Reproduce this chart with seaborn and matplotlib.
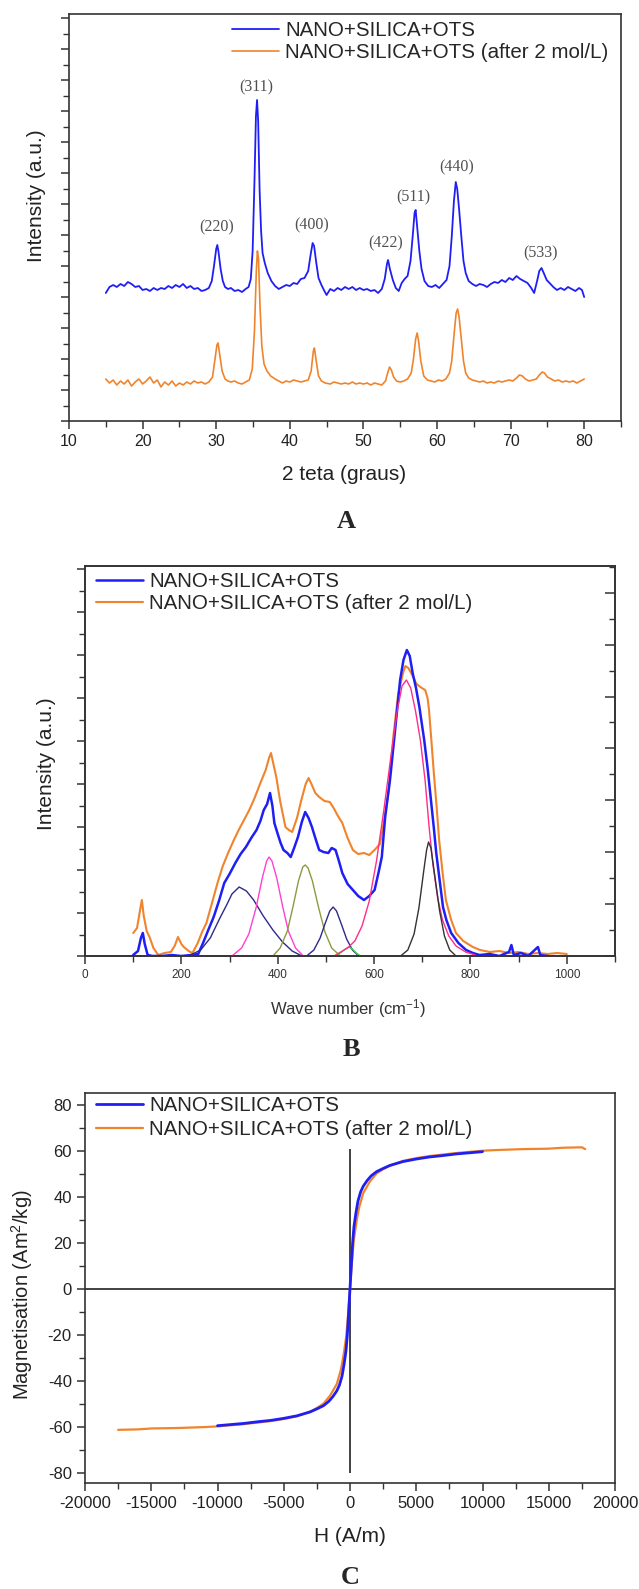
import matplotlib
matplotlib.use("Agg")
import numpy as np
import matplotlib.pyplot as plt
from matplotlib.ticker import MultipleLocator, NullFormatter
import seaborn as sns

# ---------------- data ----------------
legend_labels = ["NANO+SILICA+OTS", "NANO+SILICA+OTS (after 2 mol/L)"]

# (A) XRD: 2 theta (deg), intensity (a.u.)
xrd_blue = [
    (15.0, 128), (15.5, 134), (16.0, 136), (16.5, 134), (17.0, 137), (17.5, 135), (18.0, 139), (18.5, 137),
    (19.0, 134), (19.5, 135), (20.0, 131), (20.5, 132), (21.0, 130), (21.5, 133), (22.0, 131), (22.5, 133),
    (23.0, 132), (23.5, 135), (24.0, 133), (24.5, 136), (25.0, 134), (25.5, 137), (26.0, 133), (26.5, 135),
    (27.0, 132), (27.5, 133), (28.0, 130), (28.5, 131), (29.0, 133), (29.4, 140), (29.7, 155), (30.0, 172),
    (30.15, 176), (30.3, 170), (30.6, 152), (30.9, 140), (31.2, 134), (31.6, 132), (32.0, 133), (32.5, 130),
    (33.0, 131), (33.5, 129), (34.0, 132), (34.4, 134), (34.7, 142), (34.95, 170), (35.2, 240), (35.4, 305),
    (35.55, 321), (35.7, 300), (35.9, 230), (36.1, 190), (36.3, 168), (36.6, 158), (37.0, 148), (37.5, 140),
    (38.0, 135), (38.5, 132), (39.0, 134), (39.5, 136), (40.0, 135), (40.5, 138), (41.0, 137), (41.5, 142),
    (42.0, 143), (42.5, 150), (42.8, 165), (43.1, 178), (43.3, 175), (43.6, 158), (43.9, 143), (44.3, 136),
    (44.7, 130), (45.0, 126), (45.5, 132), (46.0, 130), (46.5, 133), (47.0, 131), (47.5, 134), (48.0, 132),
    (48.5, 134), (49.0, 131), (49.5, 133), (50.0, 131), (50.5, 132), (51.0, 130), (51.5, 131), (52.0, 128),
    (52.5, 132), (52.9, 142), (53.2, 157), (53.35, 161), (53.6, 152), (54.0, 141), (54.4, 133), (54.8, 130),
    (55.2, 138), (55.6, 142), (56.0, 145), (56.4, 160), (56.7, 185), (56.95, 208), (57.1, 211), (57.3, 195),
    (57.6, 170), (57.9, 152), (58.3, 140), (58.8, 135), (59.3, 134), (59.8, 136), (60.3, 133), (60.8, 137),
    (61.3, 141), (61.7, 155), (62.0, 184), (62.3, 220), (62.55, 239), (62.75, 232), (63.0, 212), (63.3, 185),
    (63.6, 160), (63.9, 148), (64.3, 140), (64.8, 137), (65.3, 135), (65.8, 137), (66.3, 136), (66.8, 134),
    (67.3, 137), (67.8, 139), (68.3, 138), (68.8, 141), (69.3, 139), (69.8, 143), (70.3, 141), (70.8, 145),
    (71.3, 142), (71.8, 140), (72.3, 138), (72.8, 133), (73.2, 128), (73.6, 140), (73.9, 150), (74.2, 153),
    (74.5, 148), (74.9, 141), (75.3, 138), (75.8, 134), (76.3, 131), (76.8, 133), (77.3, 131), (77.8, 134),
    (78.3, 132), (78.8, 130), (79.3, 133), (79.7, 131), (80.0, 124),
]
xrd_orange = [
    (15.0, 42), (15.5, 38), (16.0, 41), (16.5, 36), (17.0, 40), (17.5, 37), (18.0, 41), (18.5, 35),
    (19.0, 39), (19.5, 42), (20.0, 37), (20.5, 40), (21.0, 44), (21.5, 38), (22.0, 41), (22.5, 34),
    (23.0, 39), (23.5, 36), (24.0, 40), (24.5, 35), (25.0, 38), (25.5, 36), (26.0, 39), (26.5, 37),
    (27.0, 40), (27.5, 38), (28.0, 39), (28.5, 37), (29.0, 39), (29.5, 44), (29.8, 60), (30.1, 76),
    (30.25, 78), (30.45, 68), (30.8, 50), (31.2, 42), (31.6, 40), (32.0, 39), (32.5, 40), (33.0, 38),
    (33.5, 37), (34.0, 39), (34.5, 41), (34.9, 52), (35.2, 90), (35.45, 150), (35.6, 170), (35.75, 162),
    (35.95, 115), (36.2, 75), (36.5, 57), (36.9, 50), (37.4, 45), (38.0, 42), (38.5, 40), (39.0, 38),
    (39.5, 40), (40.0, 39), (40.5, 41), (41.0, 40), (41.5, 39), (42.0, 40), (42.5, 41), (42.9, 50),
    (43.2, 70), (43.35, 73), (43.55, 62), (43.9, 45), (44.3, 40), (44.8, 38), (45.5, 37), (46.0, 39),
    (46.5, 38), (47.0, 37), (47.5, 38), (48.0, 37), (48.5, 39), (49.0, 37), (49.5, 38), (50.0, 37),
    (50.5, 38), (51.0, 36), (51.5, 38), (52.0, 37), (52.5, 36), (53.0, 40), (53.3, 48), (53.55, 54),
    (53.8, 51), (54.1, 44), (54.5, 40), (55.0, 39), (55.5, 40), (56.0, 42), (56.5, 48), (56.8, 62),
    (57.1, 82), (57.3, 88), (57.5, 80), (57.8, 60), (58.2, 45), (58.7, 41), (59.2, 40), (59.7, 39),
    (60.2, 41), (60.7, 40), (61.2, 42), (61.7, 48), (62.0, 60), (62.3, 85), (62.6, 108), (62.8, 112),
    (63.0, 104), (63.3, 82), (63.6, 60), (63.9, 48), (64.3, 43), (64.8, 41), (65.3, 40), (65.8, 39),
    (66.3, 40), (66.8, 38), (67.3, 39), (67.8, 38), (68.3, 40), (68.8, 39), (69.3, 40), (69.8, 41),
    (70.3, 40), (70.8, 43), (71.2, 46), (71.6, 45), (72.0, 42), (72.5, 40), (73.0, 41), (73.5, 42),
    (73.9, 46), (74.3, 49), (74.6, 48), (75.0, 44), (75.5, 42), (76.0, 40), (76.5, 41), (77.0, 39),
    (77.5, 40), (78.0, 39), (78.5, 40), (79.0, 38), (79.5, 40), (80.0, 42),
]
hkl_labels = ["(220)", "(311)", "(400)", "(422)", "(511)", "(440)", "(533)"]
hkl_x = [30.1, 35.5, 43.0, 53.0, 56.8, 62.7, 74.1]
hkl_y = [194, 334, 196, 178, 224, 254, 168]

# (B) spectra: wave number (cm-1), intensity (a.u.)
spec_blue = [
    (100, 1), (110, 5), (116, 18), (120, 23), (124, 12), (130, 1), (140, 0), (160, 0), (180, 1), (200, 0),
    (220, 1), (235, 2), (245, 13), (255, 25), (267, 39), (278, 55), (289, 73), (300, 82), (312, 93),
    (323, 102), (334, 109), (345, 118), (356, 126), (364, 135), (371, 146), (378, 152), (384, 163),
    (389, 150), (393, 133), (400, 122), (406, 113), (412, 106), (420, 103), (427, 99), (434, 108),
    (442, 119), (450, 134), (457, 144), (464, 138), (471, 129), (478, 118), (486, 106), (495, 104),
    (505, 103), (512, 108), (520, 106), (527, 95), (534, 83), (545, 72), (556, 66), (567, 60), (579, 56),
    (590, 60), (601, 66), (609, 83), (616, 99), (623, 139), (633, 176), (643, 223), (654, 276), (661, 296),
    (668, 306), (674, 300), (680, 283), (687, 268), (694, 249), (704, 216), (711, 188), (718, 156),
    (724, 128), (729, 103), (736, 76), (743, 49), (750, 36), (760, 23), (775, 13), (791, 6), (805, 3),
    (819, 1), (840, 2), (860, 0), (880, 4), (885, 11), (890, 1), (905, 3), (920, 0), (940, 9), (945, 1),
    (960, 0),
]
spec_orange = [
    (100, 23), (108, 28), (114, 45), (118, 56), (122, 40), (128, 25), (134, 19), (142, 8), (152, 1),
    (165, 3), (178, 4), (186, 10), (193, 19), (200, 12), (205, 9), (215, 5), (223, 3), (234, 13),
    (243, 24), (252, 33), (263, 52), (275, 73), (286, 90), (297, 103), (308, 115), (319, 126), (330, 136),
    (341, 146), (352, 158), (364, 173), (375, 186), (382, 198), (386, 203), (391, 192), (397, 179),
    (405, 155), (416, 129), (423, 126), (430, 124), (440, 138), (449, 156), (458, 172), (464, 178),
    (470, 172), (478, 163), (486, 159), (497, 155), (508, 154), (516, 148), (525, 140), (534, 133),
    (545, 118), (556, 106), (567, 102), (579, 103), (590, 101), (601, 106), (612, 112), (620, 133),
    (630, 165), (640, 220), (650, 262), (660, 283), (665, 290), (671, 288), (678, 282), (688, 272),
    (699, 268), (706, 266), (711, 258), (714, 246), (719, 215), (724, 183), (730, 148), (735, 116),
    (742, 84), (749, 56), (760, 36), (770, 23), (785, 15), (805, 9), (820, 6), (840, 4), (860, 5),
    (880, 3), (900, 4), (920, 2), (940, 3), (960, 2), (980, 3), (1000, 2),
]
# fitted component bands
band_320 = [(215, 0), (240, 6), (260, 18), (280, 38), (295, 52), (305, 62), (320, 69), (335, 65),
            (350, 56), (370, 40), (390, 26), (410, 14), (430, 5), (450, 0)]
band_382 = [(305, 0), (325, 8), (340, 22), (355, 48), (368, 78), (377, 95), (382, 99), (388, 95),
            (398, 78), (410, 50), (422, 25), (437, 8), (453, 0)]
band_457 = [(390, 0), (405, 8), (420, 25), (432, 50), (443, 75), (452, 89), (457, 91), (463, 88),
            (472, 75), (485, 48), (498, 24), (512, 8), (530, 0)]
band_515 = [(460, 0), (475, 6), (488, 18), (498, 32), (508, 45), (515, 49), (522, 45), (532, 32),
            (543, 17), (555, 6), (568, 0)]
band_547 = [(520, 0), (530, 3), (540, 7), (547, 9), (555, 7), (563, 3), (572, 0)]
band_667 = [(520, 1), (545, 8), (560, 15), (575, 30), (590, 55), (605, 95), (620, 145), (635, 200),
            (648, 245), (658, 270), (667, 276), (676, 268), (686, 245), (696, 216), (706, 175),
            (714, 130), (722, 92), (732, 58), (742, 36), (755, 20), (770, 10), (790, 4), (810, 1)]
band_713 = [(655, 0), (670, 6), (683, 22), (693, 48), (703, 85), (709, 106), (713, 114), (718, 108),
            (726, 80), (736, 45), (746, 20), (757, 6), (770, 0)]
bands = [band_320, band_382, band_457, band_515, band_547, band_667, band_713]
band_colors = ["#2e2a8c", "#ff40d0", "#8c9a40", "#2e2a8c", "#30e030", "#ff2d8a", "#333333"]

# (C) magnetisation: H (A/m), M (Am2/kg)
mag_blue = [
    (-10000, -59.6), (-9000, -59.1), (-8000, -58.6), (-7000, -57.9), (-6000, -57.3), (-5000, -56.4),
    (-4000, -55.3), (-3000, -53.6), (-2500, -52.3), (-2000, -50.9), (-1600, -49.0), (-1300, -47.0),
    (-1000, -44.5), (-800, -42), (-600, -38), (-450, -33), (-300, -27), (-200, -20), (-100, -10), (0, 0),
    (100, 10), (200, 20), (300, 27), (450, 33), (600, 38), (800, 42), (1000, 44.5), (1300, 47),
    (1600, 49), (2000, 50.8), (2500, 52.2), (3000, 53.5), (4000, 55.2), (5000, 56.3), (6000, 57.2),
    (7000, 57.8), (8000, 58.5), (9000, 59), (10000, 59.5),
]
mag_orange = [
    (-17500, -61.4), (-16000, -61.2), (-15000, -60.8), (-13000, -60.6), (-11000, -60.2), (-10000, -59.9),
    (-8000, -58.9), (-6000, -57.6), (-5000, -56.7), (-4000, -55.5), (-3000, -53.4), (-2500, -51.9),
    (-2000, -50.0), (-1500, -46.5), (-1000, -41.5), (-700, -35.5), (-500, -29.5), (-300, -21.5),
    (-200, -15.5), (-100, -8), (0, 0), (100, 8), (200, 15.5), (300, 21.5), (500, 29.5), (700, 35.5),
    (1000, 41.5), (1500, 46.5), (2000, 50.0), (2500, 51.9), (3000, 53.4), (4000, 55.5), (5000, 56.7),
    (6000, 57.6), (8000, 58.9), (10000, 59.9), (11000, 60.2), (13000, 60.6), (15000, 60.8),
    (16000, 61.2), (17500, 61.4), (17750, 60.6),
]
mag_vline = [-80, 60.5]

BLUE = "#1f1ff5"
ORANGE = "#f0842c"

# ---------------- figure ----------------
sns.set_theme(style="ticks")
plt.rcParams["font.family"] = ["Liberation Sans", "DejaVu Sans"]
plt.rcParams["mathtext.default"] = "regular"
plt.rcParams["axes.unicode_minus"] = False

W, H = 639, 1589
fig = plt.figure(figsize=(W / 100, H / 100), dpi=100)


def box(left, top, right, bottom):
    return [left / W, 1 - bottom / H, (right - left) / W, (bottom - top) / H]


def ftext(x, y, s, **kw):
    fig.text(x / W, 1 - y / H, s, ha="center", va="center", **kw)


def style_frame(ax):
    for sp in ax.spines.values():
        sp.set_color("#333333")
        sp.set_linewidth(1.2)


def draw(ax, pts, color, lw, label=None, z=2):
    arr = np.array(pts, dtype=float)
    sns.lineplot(x=arr[:, 0], y=arr[:, 1], ax=ax, color=color, lw=lw, label=label,
                 sort=False, estimator=None, zorder=z)


def add_legend(ax, left, top, spacing):
    h, l = ax.get_legend_handles_labels()
    order = [l.index(legend_labels[0]), l.index(legend_labels[1])]
    ax.legend([h[i] for i in order], [l[i] for i in order], loc="upper left",
              bbox_to_anchor=(left / W, 1 - top / H), bbox_transform=fig.transFigure,
              frameon=False, fontsize=14.8, handlelength=2.3, handletextpad=0.3,
              labelspacing=spacing, borderpad=0, borderaxespad=0)


# ----- panel A -----
axA = fig.add_axes(box(69, 14, 621, 421))
draw(axA, xrd_orange, ORANGE, 1.2, legend_labels[1], z=2)
draw(axA, xrd_blue, BLUE, 1.3, legend_labels[0], z=3)
axA.set_xlim(10, 85)
axA.set_ylim(0, 407)
for lab, x, y in zip(hkl_labels, hkl_x, hkl_y):
    axA.text(x, y, lab, ha="center", va="center", fontsize=11.5, color="#505050",
             family=["Liberation Serif", "DejaVu Serif"])
axA.xaxis.set_major_locator(MultipleLocator(10))
axA.xaxis.set_minor_locator(MultipleLocator(5))
axA.yaxis.set_major_locator(MultipleLocator(31))
axA.yaxis.set_minor_locator(MultipleLocator(15.5))
axA.yaxis.set_major_formatter(NullFormatter())
axA.tick_params(which="both", direction="out", top=False, right=False, colors="#333333",
                labelsize=11.5, labelcolor="#222222")
axA.tick_params(which="major", length=6, width=1.1)
axA.tick_params(which="minor", length=4.5, width=1.0)
style_frame(axA)
axA.set_xlabel("")
axA.set_ylabel("")
add_legend(axA, 232, 21, 0.15)
ftext(36, 196, "Intensity (a.u.)", fontsize=15, rotation=90, color="#222222")
ftext(344, 474, "2 teta (graus)", fontsize=15, color="#222222")
ftext(346, 522, "A", fontsize=19, fontweight="bold", family=["Liberation Serif", "DejaVu Serif"])

# ----- panel B -----
axB = fig.add_axes(box(85, 566, 615, 956))
draw(axB, spec_orange, ORANGE, 1.5, legend_labels[1], z=2)
draw(axB, spec_blue, BLUE, 1.8, legend_labels[0], z=3)
for pts, c in zip(bands, band_colors):
    draw(axB, pts, c, 1.0, None, z=4)
axB.set_xlim(0, 1100)
axB.set_ylim(0, 390)
axB.xaxis.set_major_locator(MultipleLocator(200))
axB.xaxis.set_minor_locator(MultipleLocator(100))
axB.yaxis.set_major_locator(MultipleLocator(43))
axB.yaxis.set_minor_locator(MultipleLocator(21.5))
axB.yaxis.set_major_formatter(NullFormatter())
axB.tick_params(which="both", direction="out", top=False, right=False, colors="#333333",
                labelsize=8.5, labelcolor="#333333")
axB.tick_params(which="major", length=6, width=1.1)
axB.tick_params(which="minor", length=4, width=1.0)
axB2 = axB.twinx()
axB2.set_ylim(0, 390)
axB2.yaxis.set_major_locator(MultipleLocator(51.9))
axB2.yaxis.set_minor_locator(MultipleLocator(25.95))
axB2.yaxis.set_major_formatter(NullFormatter())
axB2.tick_params(which="both", direction="in", colors="#333333")
axB2.tick_params(which="major", length=7, width=1.1)
axB2.tick_params(which="minor", length=4, width=1.0)
style_frame(axB)
style_frame(axB2)
axB.set_xlabel("")
axB.set_ylabel("")
add_legend(axB, 96, 572, 0.15)
ftext(47, 764, "Intensity (a.u.)", fontsize=15, rotation=90, color="#222222")
ftext(348, 1009, "Wave number (cm$^{-1}$)", fontsize=12, color="#333333")
ftext(351, 1050, "B", fontsize=19, fontweight="bold", family=["Liberation Serif", "DejaVu Serif"])

# ----- panel C -----
axC = fig.add_axes(box(85, 1093, 615, 1483))
axC.axhline(0, color="#333333", lw=1.3, zorder=1)
axC.vlines(0, mag_vline[0], mag_vline[1], color="#333333", lw=1.3, zorder=1)
draw(axC, mag_orange, ORANGE, 1.6, legend_labels[1], z=2)
draw(axC, mag_blue, BLUE, 2.0, legend_labels[0], z=3)
axC.set_xlim(-20000, 20000)
axC.set_ylim(-84.5, 85)
axC.xaxis.set_major_locator(MultipleLocator(5000))
axC.xaxis.set_minor_locator(MultipleLocator(2500))
axC.yaxis.set_major_locator(MultipleLocator(20))
axC.yaxis.set_minor_locator(MultipleLocator(10))
axC.tick_params(which="both", direction="out", top=False, right=False, colors="#333333",
                labelsize=12, labelcolor="#222222")
axC.tick_params(which="major", length=6, width=1.1)
axC.tick_params(which="minor", length=4, width=1.0)
style_frame(axC)
axC.set_xlabel("")
axC.set_ylabel("")
add_legend(axC, 96, 1096, 0.25)
ftext(22, 1295, "Magnetisation (Am$^2$/kg)", fontsize=14.5, rotation=90, color="#222222")
ftext(350, 1537, "H (A/m)", fontsize=15, color="#222222")
ftext(350, 1578, "C", fontsize=19, fontweight="bold", family=["Liberation Serif", "DejaVu Serif"])

fig.savefig("out.png", dpi=100)
